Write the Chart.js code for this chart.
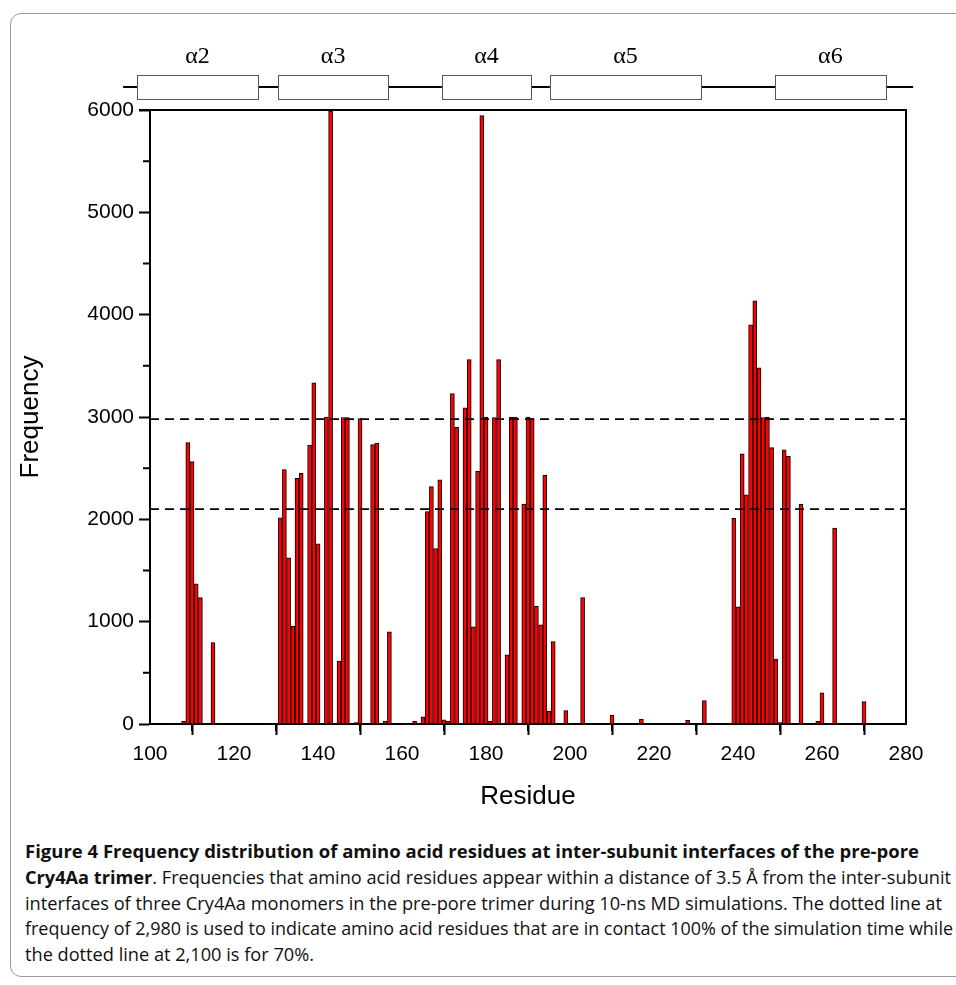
<!DOCTYPE html>
<html>
<head>
<meta charset="utf-8">
<script src="https://cdn.jsdelivr.net/npm/chart.js@4.4.1/dist/chart.umd.min.js"></script>
<style>
  html, body { margin:0; padding:0; background:#fff; width:956px; height:985px; overflow:hidden; }
  #frame { position:absolute; left:10px; top:13px; width:1000px; height:962px; border:1px solid #9a9a9a; border-radius:11px; }
  #chart { position:absolute; left:0; top:0; }
  .cap { position:absolute; left:25px; white-space:nowrap; font-family:"Open Sans", "Noto Sans", sans-serif; font-size:17.5px; line-height:26px; color:#111; transform-origin:0 50%; }
  .cap b { font-weight:700; }
</style>
</head>
<body>
<div id="frame"></div>
<canvas id="chart" width="956" height="830"></canvas>
<div class="cap" id="c1" style="top:838px"><b>Figure 4 Frequency distribution of amino acid residues at inter-subunit interfaces of the pre-pore</b></div>
<div class="cap" id="c2" style="top:864px"><b>Cry4Aa trimer</b>. Frequencies that amino acid residues appear within a distance of 3.5 Å from the inter-subunit</div>
<div class="cap" id="c3" style="top:890px">interfaces of three Cry4Aa monomers in the pre-pore trimer during 10-ns MD simulations. The dotted line at</div>
<div class="cap" id="c4" style="top:915px">frequency of 2,980 is used to indicate amino acid residues that are in contact 100% of the simulation time while</div>
<div class="cap" id="c5" style="top:941px">the dotted line at 2,100 is for 70%.</div>
<script>
// ---- data ----
const residues = [108,109,110,111,112,115,
  130,131,132,133,134,135,136,138,139,140,142,143,145,146,147,149,150,153,154,156,157,
  161,163,165,166,167,168,169,170,171,172,173,175,176,177,178,179,180,181,182,183,184,185,186,187,188,189,190,191,192,193,194,195,196,
  199,200,203,210,217,228,232,
  237,238,239,240,241,242,243,244,245,246,247,248,249,250,251,252,254,255,259,260,262,263,270];
const frequency = [26,2750,2565,1370,1235,795,
  10,2015,2485,1625,955,2400,2450,2725,3335,1760,3000,5990,615,2995,2995,13,2985,2730,2745,26,900,
  7,26,70,2075,2320,1715,2385,40,25,3230,2900,3090,3560,950,2470,5945,3000,25,2995,3560,10,676,3000,3000,10,2150,3000,2985,1150,970,2430,125,805,
  130,7,1235,88,49,36,230,
  5,10,2010,1145,2640,2240,3900,4135,3480,2995,3000,2700,635,15,2680,2615,5,2150,26,305,8,1915,220];
const thresholds = [2980, 2100];          // 100% and 70% contact lines
const xTicks = [100,120,140,160,180,200,220,240,260,280];
const yTicks = [0,1000,2000,3000,4000,5000,6000];
const helixNames = ['\u03B12','\u03B13','\u03B14','\u03B15','\u03B16'];
const helixStart = [96.9,130.5,169.5,195.2,248.8];
const helixEnd   = [125.7,156.7,190.7,231.2,275.2];
const topLineRange = [93.6, 281.7];

// ---- build ----
const barData = residues.map((r,i)=>({x:r, y:frequency[i]}));
const lineSets = thresholds.map(t=>({
  type:'line', data:[{x:xTicks[0],y:t},{x:xTicks[xTicks.length-1],y:t}],
  borderColor:'#000', borderWidth:1.7, borderDash:[9,6], pointRadius:0, fill:false, order:0, tension:0
}));

const decor = {
  id:'decor',
  afterDraw(chart){
    const ctx = chart.ctx, a = chart.chartArea, xs = chart.scales.x, ys = chart.scales.y;
    ctx.save();
    ctx.strokeStyle='#000'; ctx.lineWidth=2;
    ctx.beginPath();
    ctx.moveTo(a.left-11, a.top); ctx.lineTo(a.right, a.top); ctx.lineTo(a.right, a.bottom);
    ctx.stroke();
    ctx.lineWidth=2;
    ctx.beginPath();
    for (let v=110; v<280; v+=20){ const px=xs.getPixelForValue(v); ctx.moveTo(px,a.bottom); ctx.lineTo(px,a.bottom+7); }
    for (let v=500; v<6000; v+=1000){ const py=ys.getPixelForValue(v); ctx.moveTo(a.left,py); ctx.lineTo(a.left-7,py); }
    ctx.stroke();
    const yMid = 87, h = 24;
    ctx.strokeStyle='#000'; ctx.lineWidth=2;
    ctx.beginPath();
    ctx.moveTo(xs.getPixelForValue(topLineRange[0]), yMid);
    ctx.lineTo(xs.getPixelForValue(topLineRange[1]), yMid);
    ctx.stroke();
    ctx.font = '24px "Liberation Serif", serif';
    ctx.textAlign='center'; ctx.textBaseline='middle';
    for (let i=0;i<helixNames.length;i++){
      const x1 = xs.getPixelForValue(helixStart[i]), x2 = xs.getPixelForValue(helixEnd[i]);
      ctx.fillStyle='#fff'; ctx.fillRect(x1, yMid-12, x2-x1, h);
      ctx.strokeStyle='#555'; ctx.lineWidth=1;
      ctx.strokeRect(Math.round(x1)+0.5, yMid-12+0.5, Math.round(x2-x1), h);
      ctx.fillStyle='#000';
      ctx.fillText(helixNames[i], (x1+x2)/2, 57);
    }
    ctx.restore();
  }
};

new Chart(document.getElementById('chart'), {
  data: {
    datasets: [
      ...lineSets,
      { type:'bar', data: barData, backgroundColor:'#ff0000', borderColor:'#000', borderWidth:1,
        barThickness:4, borderSkipped:'start', order:1 }
    ]
  },
  options: {
    responsive:false, animation:false, devicePixelRatio:1,
    layout:{ padding:{ left:0, right:50, top:110, bottom:0 } },
    plugins:{ legend:{display:false}, tooltip:{enabled:false} },
    scales:{
      x:{
        type:'linear', min:xTicks[0], max:xTicks[xTicks.length-1], offset:false,
        afterBuildTicks: s => { s.ticks = xTicks.map(v=>({value:v})); },
        ticks:{ font:{family:'"Liberation Sans", Arial, sans-serif', size:21}, color:'#000', padding:7, maxRotation:0, autoSkip:false,
                callback: v => String(v) },
        grid:{ drawOnChartArea:false, drawTicks:true, tickLength:11, tickWidth:2, tickColor:'#000' },
        border:{ display:true, color:'#000', width:2 },
        title:{ display:true, text:'Residue', color:'#000', font:{family:'"Liberation Sans", Arial, sans-serif', size:26}, padding:{top:0,bottom:18} },
        afterFit: s => { s.height = 830 - 724; }
      },
      y:{
        type:'linear', min:0, max:6000,
        afterBuildTicks: s => { s.ticks = yTicks.map(v=>({value:v})); },
        ticks:{ font:{family:'"Liberation Sans", Arial, sans-serif', size:21}, color:'#000', padding:5,
                callback: v => String(v) },
        grid:{ drawOnChartArea:false, drawTicks:true, tickLength:11, tickWidth:2, tickColor:'#000' },
        border:{ display:true, color:'#000', width:2 },
        title:{ display:true, text:'Frequency', color:'#000', font:{family:'"Liberation Sans", Arial, sans-serif', size:26}, padding:{top:15,bottom:0} },
        afterFit: s => { s.width = 150; }
      }
    }
  },
  plugins:[decor]
});

const capRight = {c1:919, c2:951, c3:942, c4:953, c5:314};
for (const id in capRight){
  const el = document.getElementById(id);
  const w = el.getBoundingClientRect().width;
  el.style.transform = 'scaleX(' + ((capRight[id]-25)/w) + ')';
}
</script>
</body>
</html>
